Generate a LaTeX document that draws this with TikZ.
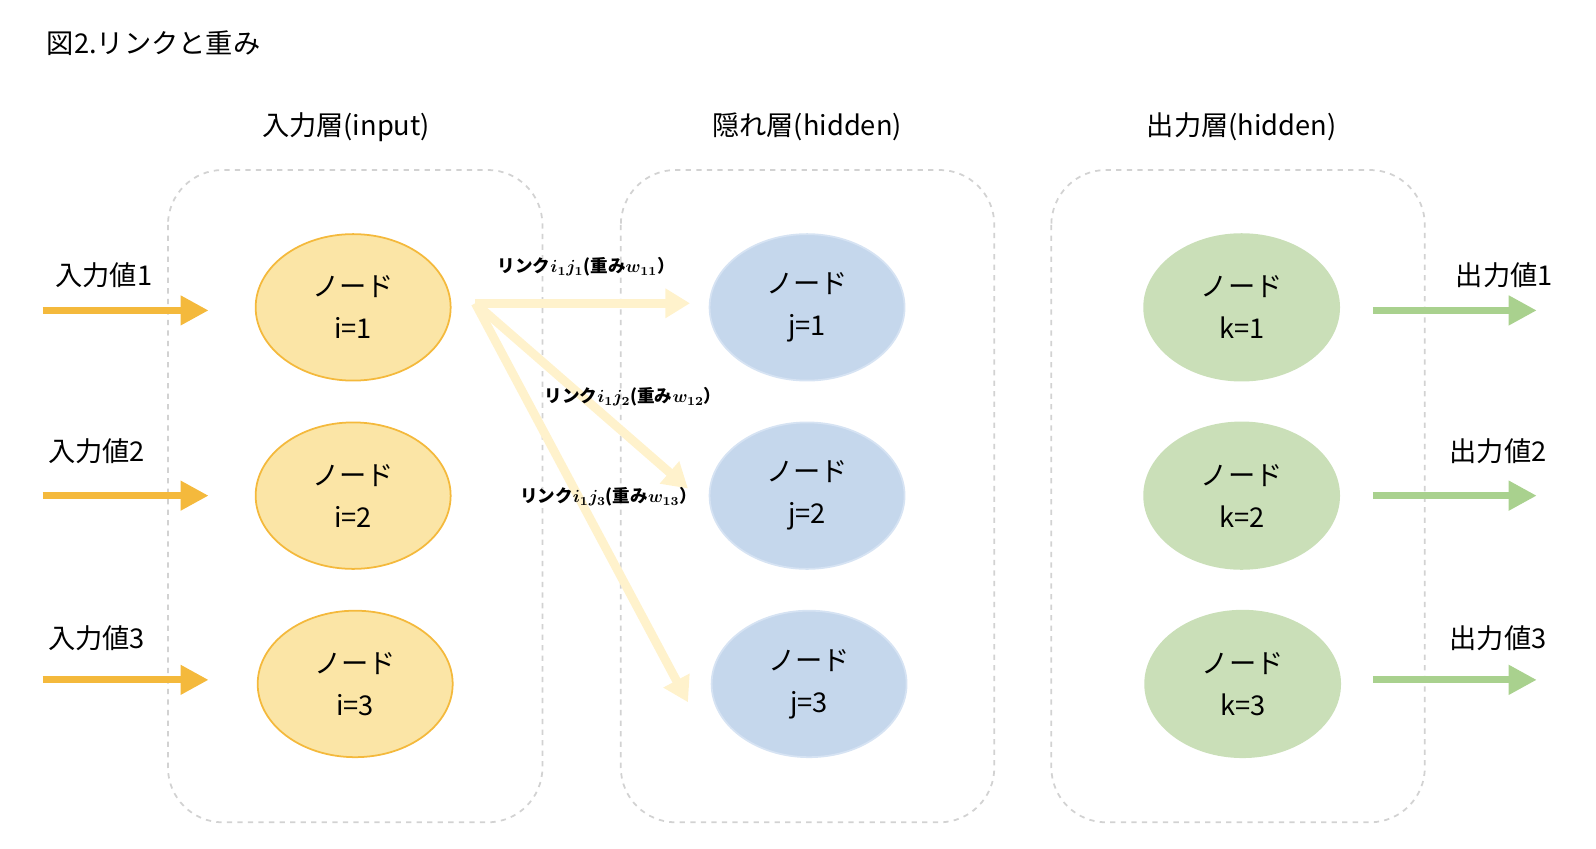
\documentclass[tikz,border=0pt]{standalone}
\usepackage{amsmath,bm}
\usepackage{fontspec}
\setmainfont{Noto Sans CJK JP}
\usetikzlibrary{shapes.geometric,arrows.meta}
\definecolor{org}{HTML}{F4B93C}
\definecolor{orgf}{HTML}{FBE5A6}
\definecolor{bluf}{HTML}{C5D7EC}
\definecolor{blub}{HTML}{D6E3F3}
\definecolor{grnf}{HTML}{CADFB8}
\definecolor{grn}{HTML}{A9D18E}
\definecolor{lnk}{HTML}{FFF2CC}
\tikzset{
  px/.style={x=0.02036cm,y=-0.02036cm},
  layerbox/.style={draw=gray!35,dashed,line width=1pt,rounded corners=1.1cm},
  nd/.style={ellipse,minimum width=3.9cm,minimum height=2.93cm,align=center,font=\fontsize{15.5}{24}\selectfont,line width=1pt},
  inn/.style={nd,fill=orgf,draw=org},
  hid/.style={nd,fill=bluf,draw=blub},
  outn/.style={nd,fill=grnf,draw=grnf},
  inarr/.style={draw=org,line width=4pt,-{Triangle[length=16pt,width=16pt]}},
  outarr/.style={draw=grn,line width=4pt,-{Triangle[length=16pt,width=16pt]}},
  lnkarr/.style={draw=lnk,line width=5pt,-{Triangle[length=14pt,width=16pt]}},
  lbl/.style={font=\fontsize{15.5}{18}\selectfont},
  llbl/.style={font=\bfseries\boldmath\fontsize{10}{12}\selectfont},
}
\begin{document}
\begin{tikzpicture}[px]
\useasboundingbox (0,0) rectangle (31.92cm,-16.96cm);
\node[lbl,anchor=west] (title) at (40,42) {図2.リンクと重み};
\node[lbl] (t1) at (340,125) {入力層(input)};
\node[lbl] (t2) at (793,125) {隠れ層(hidden)};
\node[lbl] (t3) at (1220,125) {出力層(hidden)};
\draw[layerbox] (165,167) rectangle (533,808);
\draw[layerbox] (610,167) rectangle (977,808);
\draw[layerbox] (1033,167) rectangle (1400,808);
\node[inn] (i1) at (347,302) {ノード\\i=1};
\node[inn] (i2) at (347,487) {ノード\\i=2};
\node[inn] (i3) at (349,672) {ノード\\i=3};
\node[hid] (j1) at (793,302) {ノード\\j=1};
\node[hid] (j2) at (793,487) {ノード\\j=2};
\node[hid] (j3) at (795,672) {ノード\\j=3};
\node[outn] (k1) at (1220,302) {ノード\\k=1};
\node[outn] (k2) at (1220,487) {ノード\\k=2};
\node[outn] (k3) at (1221,672) {ノード\\k=3};
% input arrows
\coordinate (a1) at (42,305); \coordinate (b1) at (205,305);
\coordinate (a2) at (42,487); \coordinate (b2) at (205,487);
\coordinate (a3) at (42,668); \coordinate (b3) at (205,668);
\draw[inarr] (a1) -- (b1);
\draw[inarr] (a2) -- (b2);
\draw[inarr] (a3) -- (b3);
\node[lbl] (v1) at (102,270) {入力値1};
\node[lbl] (v2) at (95,443) {入力値2};
\node[lbl] (v3) at (95,627) {入力値3};
% output arrows
\coordinate (c1) at (1349,305); \coordinate (d1) at (1510,305);
\coordinate (c2) at (1349,487); \coordinate (d2) at (1510,487);
\coordinate (c3) at (1349,668); \coordinate (d3) at (1510,668);
\draw[outarr] (c1) -- (d1);
\draw[outarr] (c2) -- (d2);
\draw[outarr] (c3) -- (d3);
\node[lbl] (o1) at (1478,270) {出力値1};
\node[lbl] (o2) at (1472,443) {出力値2};
\node[lbl] (o3) at (1472,627) {出力値3};
% links
\coordinate (s) at (467,298);
\coordinate (e1) at (678,298);
\coordinate (e2) at (676,480);
\coordinate (e3) at (676,690);
\draw[lnkarr] (s) -- (e3);
\draw[lnkarr] (s) -- (e2);
\draw[lnkarr] (s) -- (e1);
\node[llbl] (l1) at (576,262) {リンク$i_1j_1$(重み$w_{11}$）};
\node[llbl] (l2) at (622,390) {リンク$i_1j_2$(重み$w_{12}$）};
\node[llbl] (l3) at (598,488) {リンク$i_1j_3$(重み$w_{13}$）};
\end{tikzpicture}
\end{document}
